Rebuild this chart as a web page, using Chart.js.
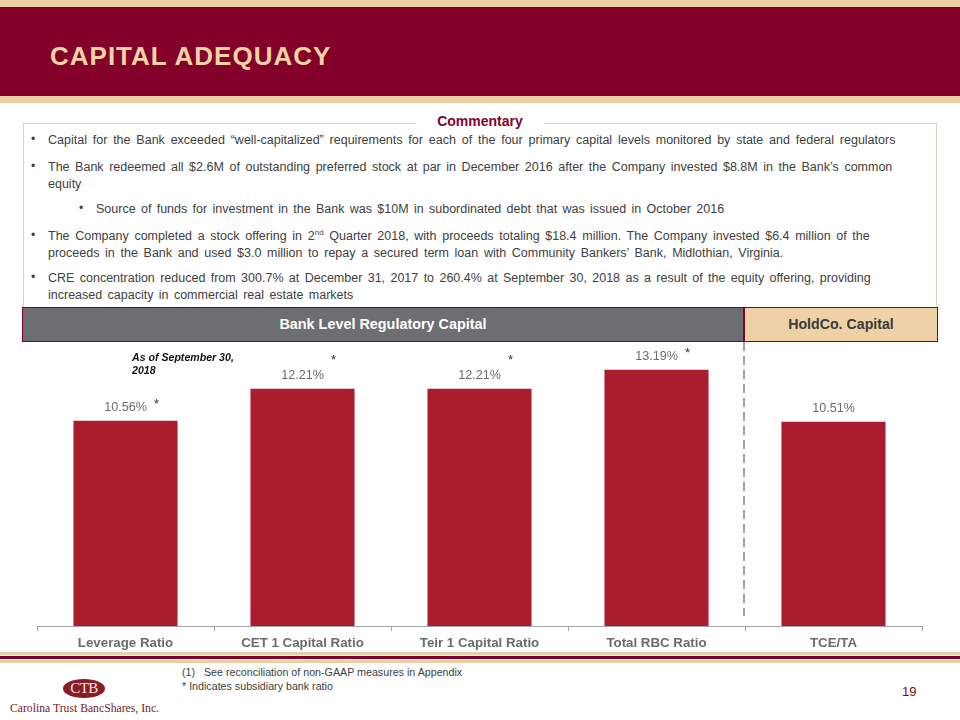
<!DOCTYPE html>
<html>
<head>
<meta charset="utf-8">
<script src="https://cdn.jsdelivr.net/npm/chart.js@4/dist/chart.umd.min.js"></script>
<style>
  html, body { margin:0; padding:0; background:#fff; }
  body { width:960px; height:720px; position:relative; overflow:hidden; font-family:"Liberation Sans", Arial, sans-serif; }
  .abs { position:absolute; }
  #topTan1 { left:0; top:0; width:960px; height:7px; background:#EDCFA5; }
  #topBand { left:0; top:7px; width:960px; height:89px; background:#82002A; }
  #topTan2 { left:0; top:96px; width:960px; height:7px; background:#EDCFA5; }
  #title { left:50px; top:41px; font-size:26px; font-weight:bold; color:#F2D3A6; letter-spacing:1px; }
  #box { left:23px; top:123px; width:914px; height:184px; border:1px solid #E3D3B5; border-bottom:none; box-sizing:border-box; }
  #commentary { left:416px; top:113px; width:128px; text-align:center; background:#fff; font-size:14px; font-weight:bold; color:#82002A; }
  .txt { font-size:12.5px; color:#404040; line-height:16.5px; word-spacing:2.3px; white-space:nowrap; }
  .bul { font-size:12px; color:#404040; }
  #gray { left:22px; top:307px; width:722px; height:35px; background:#6D6E71; border:1px solid #82002A; box-sizing:border-box; color:#fff; font-weight:bold; font-size:14.4px; text-align:center; line-height:33px; }
  #tan { left:744px; top:307px; width:194px; height:35px; background:#EFD1A7; border:1px solid #82002A; box-sizing:border-box; color:#3A3A3A; font-weight:bold; font-size:14.2px; text-align:center; line-height:33px; }
  #asof { left:132px; top:351px; font-size:10.6px; font-weight:bold; font-style:italic; color:#111; line-height:13px; }
  #chartWrap { left:0; top:340px; width:960px; height:320px; }
  #botTan1 { left:0; top:652px; width:960px; height:3px; background:#EDCFA5; }
  #botMar { left:0; top:656px; width:960px; height:3px; background:#82002A; }
  #botTan2 { left:0; top:660px; width:960px; height:3px; background:#EDCFA5; }
  #foot { left:182px; top:665px; font-size:10.7px; color:#404040; line-height:14px; }
  #page { left:902px; top:684px; font-size:13px; color:#82002A; }
  #logo { left:63px; top:679px; width:42px; height:19px; border-radius:50%; background:#8A1B2B; color:#F5E6D0; font-family:"Liberation Serif", serif; font-size:15px; text-align:center; line-height:19px; letter-spacing:-0.5px; }
  #logoTxt { left:10px; top:700px; font-family:"Liberation Serif", serif; font-size:11.7px; color:#7A1A2A; transform:scaleY(1.15); transform-origin:left top; }
</style>
</head>
<body>
<div id="topTan1" class="abs"></div>
<div id="topBand" class="abs"></div>
<div id="topTan2" class="abs"></div>
<div id="title" class="abs">CAPITAL ADEQUACY</div>

<div id="box" class="abs"></div>
<div id="commentary" class="abs">Commentary</div>

<div class="abs bul" style="left:31px;top:132px;">•</div>
<div class="abs txt" style="left:48px;top:132px;word-spacing:2.35px;">Capital for the Bank exceeded “well-capitalized” requirements for each of the four primary capital levels monitored by state and federal regulators</div>
<div class="abs bul" style="left:31px;top:159px;">•</div>
<div class="abs txt" style="left:48px;top:159px;word-spacing:2.1px;">The Bank redeemed all $2.6M of outstanding preferred stock at par in December 2016 after the Company invested $8.8M in the Bank’s common<br>equity</div>
<div class="abs bul" style="left:79px;top:201px;">•</div>
<div class="abs txt" style="left:96px;top:201px;word-spacing:1.85px;">Source of funds for investment in the Bank was $10M in subordinated debt that was issued in October 2016</div>
<div class="abs bul" style="left:31px;top:228px;">•</div>
<div class="abs txt" style="left:48px;top:228px;word-spacing:2.2px;">The Company completed a stock offering in 2<sup style="font-size:8px;line-height:0;">nd</sup> Quarter 2018, with proceeds totaling $18.4 million. The Company invested $6.4 million of the<br>proceeds in the Bank and used $3.0 million to repay a secured term loan with Community Bankers’ Bank, Midlothian, Virginia.</div>
<div class="abs bul" style="left:31px;top:270px;">•</div>
<div class="abs txt" style="left:48px;top:270px;word-spacing:1.9px;">CRE concentration reduced from 300.7% at December 31, 2017 to 260.4% at September 30, 2018 as a result of the equity offering, providing<br>increased capacity in commercial real estate markets</div>

<div id="gray" class="abs">Bank Level Regulatory Capital</div>
<div id="tan" class="abs">HoldCo. Capital</div>

<div id="chartWrap" class="abs"><canvas id="c" width="960" height="320"></canvas></div>
<div id="asof" class="abs">As of September 30,<br>2018</div>

<div id="botTan1" class="abs"></div>
<div id="botMar" class="abs"></div>
<div id="botTan2" class="abs"></div>

<div id="foot" class="abs">(1)&nbsp;&nbsp;&nbsp;See reconciliation of non-GAAP measures in Appendix<br>* Indicates subsidiary bank ratio</div>
<div id="page" class="abs">19</div>
<div id="logo" class="abs">CTB</div>
<div id="logoTxt" class="abs">Carolina Trust BancShares, Inc.</div>

<script>
// ---- data ----
const categories = ["Leverage Ratio", "CET 1 Capital Ratio", "Teir 1 Capital Ratio", "Total RBC Ratio", "TCE/TA"];
const ratios = [10.56, 12.21, 12.21, 13.19, 10.51];
const valueLabels = ["10.56%", "12.21%", "12.21%", "13.19%", "10.51%"];
const subsidiaryBankFlag = [true, true, true, true, false];
const bankLevelCount = 4; // first four categories are bank level

// asterisk vertical offsets relative to value label (style only)
const starDy = [-5, -17, -17, -5, 0];

const labelsPlugin = {
  id: 'valueLabels',
  afterDatasetsDraw(chart) {
    const ctx = chart.ctx;
    const meta = chart.getDatasetMeta(0);
    ctx.save();
    meta.data.forEach((bar, i) => {
      const ly = bar.y - 13;
      ctx.font = '12.6px "Liberation Sans", Arial, sans-serif';
      ctx.fillStyle = '#6B6B6B';
      ctx.textAlign = 'center';
      ctx.textBaseline = 'middle';
      ctx.fillText(valueLabels[i], bar.x, ly);
      if (subsidiaryBankFlag[i]) {
        ctx.font = '13px "Liberation Sans", Arial, sans-serif';
        ctx.fillStyle = '#333333';
        ctx.fillText('*', bar.x + 31, ly + starDy[i] + 2);
      }
    });
    // dashed separator between bank-level and holdco
    const xs = chart.scales.x;
    const sepX = (xs.getPixelForValue(bankLevelCount - 1) + xs.getPixelForValue(bankLevelCount)) / 2;
    ctx.strokeStyle = '#A0A0A0';
    ctx.lineWidth = 2;
    ctx.setLineDash([9, 5]);
    ctx.beginPath();
    ctx.moveTo(Math.round(sepX) - 1, 2);
    ctx.lineTo(Math.round(sepX) - 1, chart.chartArea.bottom - 10);
    ctx.stroke();
    ctx.restore();
  }
};

new Chart(document.getElementById('c'), {
  type: 'bar',
  data: {
    labels: categories,
    datasets: [{
      data: ratios,
      backgroundColor: '#A91D2E',
      borderWidth: 0,
      barPercentage: 0.588,
      categoryPercentage: 1.0
    }]
  },
  options: {
    responsive: false,
    animation: false,
    devicePixelRatio: 1,
    layout: { padding: { left: 37, right: 38, top: 14, bottom: 5 } },
    plugins: { legend: { display: false }, tooltip: { enabled: false } },
    scales: {
      y: { display: false, min: 0, max: 14 },
      x: {
        offset: true,
        grid: { drawOnChartArea: false, offset: true, tickLength: 5, color: '#A6A6A6', lineWidth: 1 },
        border: { color: '#A6A6A6', width: 1 },
        ticks: { color: '#6B6B6B', font: { family: '"Liberation Sans", Arial, sans-serif', size: 13.3, weight: 'bold' }, padding: 4, maxRotation: 0 }
      }
    }
  },
  plugins: [labelsPlugin]
});
</script>
</body>
</html>
